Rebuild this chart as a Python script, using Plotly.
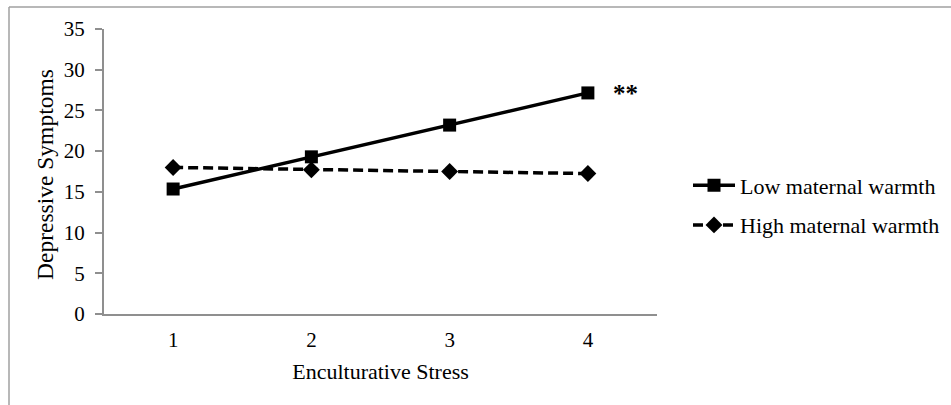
import plotly.graph_objects as go

categories = ["1", "2", "3", "4"]
low_warmth = [15.35, 19.3, 23.2, 27.15]
high_warmth = [18.0, 17.7, 17.5, 17.25]
y_ticks = [0, 5, 10, 15, 20, 25, 30, 35]

W, H = 951, 405
L, R, T, B = 104, 657, 29, 314
pw = R - L
ph = B - T

fig = go.Figure()
fig.add_trace(go.Scatter(
    x=categories, y=low_warmth, name="Low maternal warmth",
    mode="lines+markers", legendgroup="a",
    line=dict(color="black", width=3.5, dash="solid"),
    marker=dict(symbol="square", size=13, color="black"),
))
fig.add_trace(go.Scatter(
    x=categories, y=high_warmth, name="High maternal warmth",
    mode="lines+markers", legendgroup="b",
    line=dict(color="black", width=3.5, dash="10px,5px"),
    marker=dict(symbol="diamond", size=13, color="black"),
))

# significance marker next to the last point of the low-warmth line
fig.add_annotation(xref="paper", yref="paper",
                   x=(625 - L) / pw, y=(B - 93) / ph,
                   text="<b>**</b>", showarrow=False, xanchor="center", yanchor="middle",
                   font=dict(size=25, color="black", family="Liberation Serif"))

# y axis title as rotated annotation
fig.add_annotation(xref="paper", yref="paper",
                   x=(45 - L) / pw, y=(B - 175) / ph,
                   text="Depressive Symptoms", textangle=-90, showarrow=False,
                   xanchor="center", yanchor="middle",
                   font=dict(size=23.5, color="black", family="Liberation Serif"))

# outer frame lines (top and left)
fig.add_shape(type="line", xref="paper", yref="paper",
              x0=(9 - L) / pw, x1=(W - L) / pw, y0=1 + (T - 7) / ph, y1=1 + (T - 7) / ph,
              line=dict(color="#a0a0a0", width=1.5))
fig.add_shape(type="line", xref="paper", yref="paper",
              x0=(9 - L) / pw, x1=(9 - L) / pw, y0=1 + (T - 7) / ph, y1=-(H - B) / ph,
              line=dict(color="#a0a0a0", width=1.5))

font = dict(family="Liberation Serif", size=22, color="black")
tfont = dict(family="Liberation Serif", size=21, color="black")
fig.update_layout(
    width=W, height=H,
    margin=dict(l=L, r=W - R, t=T, b=H - B, autoexpand=False),
    paper_bgcolor="white", plot_bgcolor="white",
    font=font,
    showlegend=True,
    legend=dict(x=(688 - L) / pw, y=(B - 205.5) / ph, xanchor="left", yanchor="middle",
                font=font, traceorder="grouped",
                tracegroupgap=8, itemwidth=42, bgcolor="rgba(0,0,0,0)"),
    xaxis=dict(type="category", range=[-0.5, 3.5], showgrid=False,
               showline=True, linecolor="#8f8f8f", linewidth=2,
               ticks="", tickfont=tfont, ticklabelstandoff=6,
               title=dict(text="Enculturative Stress", font=font, standoff=12)),
    yaxis=dict(range=[0, 35], tickvals=y_ticks, showgrid=False,
               showline=True, linecolor="#8f8f8f", linewidth=2,
               ticks="outside", ticklen=7, tickcolor="#8f8f8f", tickwidth=1.5,
               tickfont=tfont, zeroline=False, ticklabelstandoff=6),
)

fig.write_html("out.html", config={"displayModeBar": False},
               post_script="document.body.style.margin='0';")
